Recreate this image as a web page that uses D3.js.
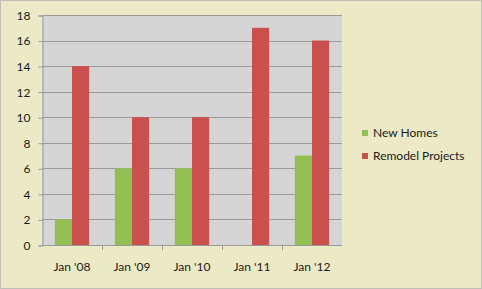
<!DOCTYPE html>
<html>
<head>
<meta charset="utf-8">
<script src="https://cdn.jsdelivr.net/npm/d3@7"></script>
<style>
    body { margin: 0; background: #fff; }
    svg text { font-family: Lato, "Open Sans", sans-serif; fill: #1a1a1a; }
</style>
</head>
<body>
<div class="chart"></div>
<script>

const categories = ["Jan '08", "Jan '09", "Jan '10", "Jan '11", "Jan '12"];
const newHomes = [2, 6, 6, null, 7];
const remodelProjects = [14, 10, 10, 17, 16];
const yTicks = [0, 2, 4, 6, 8, 10, 12, 14, 16, 18];

const seriesNames = ["New Homes", "Remodel Projects"];
const colors = ["#93bf52", "#c9504c"];

const dim = { width: 482, height: 289 };
const plot = { left: 42, right: 342, top: 15, bottom: 245 };
const fontSize = "12px";

const svg = d3.select(".chart").append("svg")
    .attr("width", dim.width)
    .attr("height", dim.height);

// backgrounds
svg.append("rect")
    .attr("x", 0.5).attr("y", 0.5)
    .attr("width", dim.width - 1).attr("height", dim.height - 1)
    .style("fill", "#ebe9c6")
    .style("stroke", "#8a8a8a")
    .style("stroke-dasharray", "1,1");

svg.append("rect")
    .attr("x", plot.left).attr("y", plot.top)
    .attr("width", plot.right - plot.left)
    .attr("height", plot.bottom - plot.top)
    .style("fill", "#d5d5d5");

// scales
const x = d3.scaleBand()
    .domain(categories)
    .range([plot.left, plot.right]);

const xInner = d3.scaleBand()
    .domain([0, 1])
    .range([0, x.bandwidth()])
    .paddingOuter(0.75)
    .paddingInner(0);

const y = d3.scaleLinear()
    .domain([0, 18])
    .range([plot.bottom, plot.top]);

// grid lines
svg.append("g")
    .selectAll("line")
    .data(yTicks)
    .join("line")
    .attr("x1", plot.left).attr("x2", plot.right)
    .attr("y1", d => Math.round(y(d)) + 0.5)
    .attr("y2", d => Math.round(y(d)) + 0.5)
    .style("stroke", "#9a9a9a");

// y axis
const yAxis = d3.axisLeft(y)
    .tickValues(yTicks)
    .tickSize(4)
    .tickPadding(8);

svg.append("g")
    .attr("transform", `translate(${ plot.left + 0.5 }, 0.5)`)
    .call(yAxis)
    .call(g => g.select(".domain").style("stroke", "#9a9a9a"))
    .call(g => g.selectAll(".tick line").style("stroke", "#9a9a9a"))
    .call(g => g.selectAll("text")
        .style("font-size", fontSize)
        .attr("fill", "#1a1a1a"));

// x axis
const xAxis = d3.axisBottom(x)
    .tickSize(0)
    .tickPadding(17);

svg.append("g")
    .attr("transform", `translate(0, ${ Math.round(y(0)) + 0.5 })`)
    .call(xAxis)
    .call(g => g.select(".domain").remove())
    .call(g => g.selectAll("text")
        .style("font-size", fontSize)
        .attr("fill", "#1a1a1a"));

// category boundary ticks
svg.append("g")
    .selectAll("line")
    .data(categories.slice(1))
    .join("line")
    .attr("x1", d => Math.round(x(d)) + 0.5)
    .attr("x2", d => Math.round(x(d)) + 0.5)
    .attr("y1", Math.round(y(0)))
    .attr("y2", Math.round(y(0)) + 5)
    .style("stroke", "#9a9a9a");

// bars
const series = [newHomes, remodelProjects];

series.forEach((values, s) => {
    svg.append("g")
        .selectAll("rect")
        .data(values.map((v, i) => ({ cat: categories[i], v })).filter(d => d.v != null))
        .join("rect")
        .attr("x", d => x(d.cat) + xInner(s))
        .attr("y", d => y(d.v))
        .attr("width", xInner.bandwidth())
        .attr("height", d => y(0) - y(d.v))
        .style("fill", colors[s]);
});

// legend
const legend = svg.append("g")
    .attr("transform", "translate(362, 130)");

const item = legend.selectAll("g")
    .data(seriesNames)
    .join("g")
    .attr("transform", (d, i) => `translate(0, ${ i * 23 })`);

item.append("rect")
    .attr("width", 6).attr("height", 6)
    .style("fill", (d, i) => colors[i]);

item.append("text")
    .attr("x", 11)
    .attr("y", 7)
    .style("font-size", fontSize)
    .text(d => d);

</script>
</body>
</html>
